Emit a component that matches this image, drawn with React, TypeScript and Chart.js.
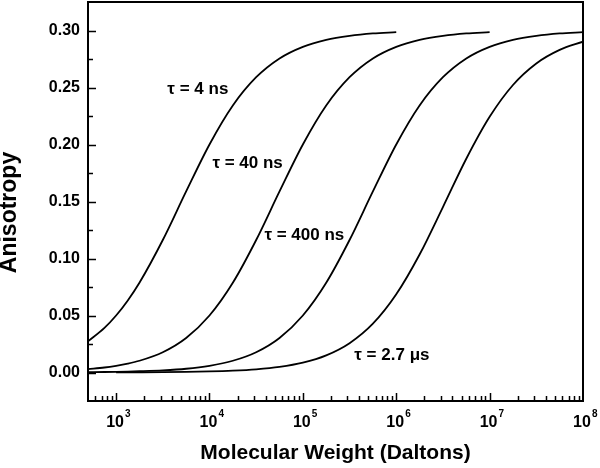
import { useEffect, useRef } from "react";
import { Chart, registerables } from "chart.js";

Chart.register(...registerables);

// Molecular weight sample positions (Daltons)
const molecularWeights = [
  500, 750, 1000, 1334, 1778, 3162, 5623,
  10000, 17780, 31620, 56230,
  100000, 177800, 316200, 562300,
  1000000, 1778000, 3162000, 5623000,
  10000000, 17780000, 31620000, 56230000,
  100000000,
];

// Anisotropy for each lifetime
const tau4ns = [
  0.0273, 0.0391, 0.05, 0.0632, 0.0787, 0.1162, 0.1588,
  0.2, 0.2342, 0.259, 0.2755,
  0.2857, 0.2918, 0.2953, 0.2974,
  0.2985, null, null, null,
  null, null, null, null,
  null,
];
const tau40ns = [
  0.003, 0.0044, 0.0059, 0.0078, 0.0103, 0.0178, 0.0303,
  0.05, 0.0787, 0.1162, 0.1588,
  0.2, 0.2342, 0.259, 0.2755,
  0.2857, 0.2918, 0.2953, 0.2974,
  0.2985, null, null, null,
  null,
];
const tau400ns = [
  0.0003, 0.00045, 0.0006, 0.0008, 0.0011, 0.0019, 0.0033,
  0.0059, 0.0103, 0.0178, 0.0303,
  0.05, 0.0787, 0.1162, 0.1588,
  0.2, 0.2342, 0.259, 0.2755,
  0.2857, 0.2918, 0.2953, 0.2974,
  0.2985,
];
const tau2700ns = [
  null, null, 0.0001, 0.00012, 0.00016, 0.00028, 0.0005,
  0.0009, 0.0016, 0.0028, 0.0049,
  0.0086, 0.015, 0.0257, 0.0428,
  0.0686, 0.1035, 0.1451, 0.1875,
  0.2243, 0.2522, 0.2711, 0.283,
  0.2902,
];

const seriesLabels = ["τ = 4 ns", "τ = 40 ns", "τ = 400 ns", "τ = 2.7 μs"];
const seriesValues = [tau4ns, tau40ns, tau400ns, tau2700ns];

// Where each curve label sits (data units: molecular weight, anisotropy)
const labelMW = [3540, 10740, 38730, 355600];
const labelAniso = [0.248, 0.1833, 0.1202, 0.0152];

const yTitle = "Anisotropy";
const xTitle = "Molecular Weight (Daltons)";
const yTickValues = [0, 0.05, 0.1, 0.15, 0.2, 0.25, 0.3];
const yMinorTickValues = [0.025, 0.075, 0.125, 0.175, 0.225, 0.275];
const xDecadeExponents = [3, 4, 5, 6, 7, 8];
const xMin = 500;
const xMax = 100000000;
const yMin = -0.025;
const yMax = 0.325;

const FONT = '"Liberation Sans", Arial, Helvetica, sans-serif';

const framePlugin = {
  id: "framePlugin",
  afterDraw(chart: any) {
    const { ctx, chartArea: a, scales } = chart;
    const x = scales.x;
    const y = scales.y;
    ctx.save();
    ctx.strokeStyle = "#000";
    ctx.lineWidth = 2;
    ctx.strokeRect(a.left, a.top, a.right - a.left, a.bottom - a.top);

    ctx.lineWidth = 1.5;
    ctx.beginPath();
    yTickValues.forEach((v) => {
      const py = Math.round(y.getPixelForValue(v)) + 0.5;
      ctx.moveTo(a.left, py);
      ctx.lineTo(a.left + 8, py);
    });
    yMinorTickValues.forEach((v) => {
      const py = Math.round(y.getPixelForValue(v)) + 0.5;
      ctx.moveTo(a.left, py);
      ctx.lineTo(a.left + 5, py);
    });
    for (let e = 2; e <= 7; e++) {
      for (let m = 1; m <= 9; m++) {
        const v = m * Math.pow(10, e);
        if (v <= xMin || v >= xMax) continue;
        const px = Math.round(x.getPixelForValue(v)) + 0.5;
        ctx.moveTo(px, a.bottom);
        ctx.lineTo(px, a.bottom - (m === 1 ? 8 : 5));
      }
    }
    ctx.stroke();

    // x tick labels with superscript exponents
    ctx.fillStyle = "#000";
    ctx.textBaseline = "alphabetic";
    ctx.textAlign = "left";
    xDecadeExponents.forEach((e) => {
      const px = x.getPixelForValue(Math.pow(10, e));
      ctx.font = `bold 16px ${FONT}`;
      const w = ctx.measureText("10").width;
      ctx.fillText("10", px - w / 2 - 1, a.bottom + 26);
      ctx.font = `bold 10px ${FONT}`;
      ctx.fillText(String(e), px + w / 2, a.bottom + 16);
    });

    // curve labels
    ctx.font = `bold 17px ${FONT}`;
    ctx.textBaseline = "middle";
    seriesLabels.forEach((t, i) => {
      ctx.fillText(t, x.getPixelForValue(labelMW[i]), y.getPixelForValue(labelAniso[i]));
    });

    // y axis title
    ctx.save();
    ctx.translate(a.left - 78, (a.top + a.bottom) / 2 + 11);
    ctx.rotate(-Math.PI / 2);
    ctx.textAlign = "center";
    ctx.textBaseline = "middle";
    ctx.font = `bold 23px ${FONT}`;
    ctx.fillText(yTitle, 0, 0);
    ctx.restore();

    ctx.restore();
  },
};

export default function App() {
  const ref = useRef<HTMLCanvasElement | null>(null);

  useEffect(() => {
    if (!ref.current) return;
    const datasets = seriesValues.map((vals, i) => ({
      label: seriesLabels[i],
      data: molecularWeights
        .map((m, j) => ({ x: m, y: vals[j] }))
        .filter((p) => p.y !== null),
      borderColor: "#000",
      backgroundColor: "#000",
      borderWidth: 1.8,
      pointRadius: 0,
      fill: false,
      cubicInterpolationMode: "monotone" as const,
    }));

    const chart = new Chart(ref.current, {
      type: "line",
      data: { datasets },
      options: {
        animation: false,
        responsive: false,
        layout: { padding: { left: 0, top: 2, right: 17, bottom: 2 } },
        plugins: {
          legend: { display: false },
          tooltip: { enabled: false },
        },
        scales: {
          x: {
            type: "logarithmic",
            min: xMin,
            max: xMax,
            grid: { display: false, drawTicks: false },
            border: { display: false },
            ticks: { display: false },
            title: {
              display: true,
              text: xTitle,
              color: "#000",
              font: { family: FONT, size: 21, weight: "bold", lineHeight: 1 },
              padding: { top: 0, bottom: 2 },
            },
            afterFit: (s: any) => {
              s.height = 65;
              s.paddingLeft = 0;
              s.paddingRight = 0;
            },
          },
          y: {
            type: "linear",
            min: yMin,
            max: yMax,
            grid: { display: false, drawTicks: false },
            border: { display: false },
            afterBuildTicks: (s: any) => {
              s.ticks = yTickValues.map((v) => ({ value: v }));
            },
            ticks: {
              color: "#000",
              padding: 8,
              font: { family: FONT, size: 16, weight: "bold" },
              callback: (v: any) => Number(v).toFixed(2),
            },
            title: { display: false },
            afterFit: (s: any) => {
              s.width = 88;
              s.paddingTop = 0;
              s.paddingBottom = 0;
            },
          },
        },
      },
      plugins: [framePlugin],
    });
    return () => chart.destroy();
  }, []);

  return (
    <div style={{ position: "absolute", left: 0, top: 0, width: 600, height: 468 }}>
      <canvas ref={ref} width={600} height={468} />
    </div>
  );
}
